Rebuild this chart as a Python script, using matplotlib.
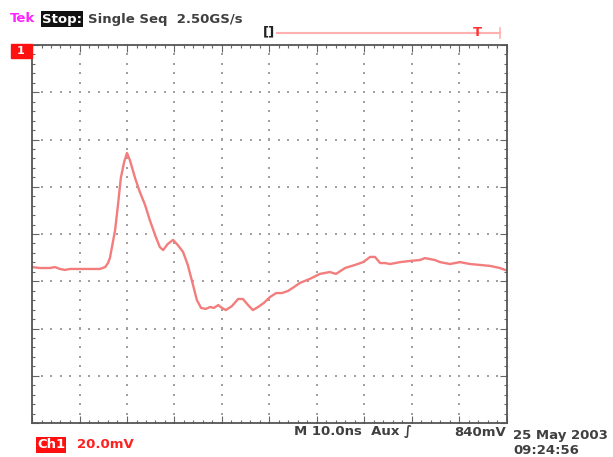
import numpy as np
import matplotlib
matplotlib.use('Agg')
import matplotlib.pyplot as plt
from matplotlib.patches import Rectangle

# waveform: time in ns (10 ns/div), voltage in mV (20 mV/div)
t_ns = [0.0, 1.7, 3.8, 4.8, 5.9, 6.9, 8.0, 10.1, 12.2, 14.3, 15.4, 16.0, 16.4, 16.8,
        17.5, 18.1, 18.7, 19.4, 20.0, 20.6, 21.7, 22.7, 23.8, 24.8, 25.9, 26.9, 27.6,
        28.6, 29.7, 30.7, 31.8, 32.8, 33.9, 34.7, 35.6, 36.6, 37.5, 38.3, 39.2, 40.0,
        40.8, 42.1, 43.4, 44.4, 45.5, 46.5, 47.6, 48.8, 50.1, 51.4, 52.6, 53.9, 55.2,
        56.4, 58.5, 60.6, 62.7, 64.0, 65.9, 68.0, 69.7, 71.2, 72.2, 73.3, 74.3, 75.4,
        77.5, 79.6, 81.7, 82.7, 84.8, 85.9, 88.0, 90.1, 92.2, 94.3, 96.4, 98.5, 99.6]
v_mv = [-14.0, -14.4, -14.4, -14.0, -14.8, -15.2, -14.8, -14.8, -14.8, -14.8, -14.0,
        -12.3, -10.2, -5.9, 1.7, 12.3, 23.7, 30.5, 34.3, 31.3, 23.7, 17.8, 12.3, 5.9,
        -0.4, -5.5, -6.8, -4.2, -2.5, -4.7, -7.6, -13.1, -21.6, -27.9, -31.3, -31.7,
        -30.9, -31.3, -30.1, -31.3, -32.2, -30.5, -27.5, -27.5, -30.1, -32.2, -30.9,
        -29.2, -26.7, -25.0, -25.0, -24.1, -22.4, -20.7, -19.0, -16.9, -16.1, -16.9,
        -14.4, -13.1, -11.9, -9.7, -9.7, -12.3, -12.3, -12.7, -11.9, -11.4, -11.0,
        -10.2, -11.0, -11.9, -12.7, -11.9, -12.7, -13.1, -13.5, -14.4, -15.2]

ns_per_div = 10.0
mv_per_div = 20.0
n_xdiv = 10
n_ydiv = 8

fig = plt.figure(figsize=(6.13, 4.57), dpi=100)
ax = fig.add_axes([32 / 613, 1 - 423 / 457, 475 / 613, 378 / 457])
ax.set_xlim(0, n_xdiv * ns_per_div)
ax.set_ylim(-n_ydiv / 2 * mv_per_div, n_ydiv / 2 * mv_per_div)

gray = '#a0a0a0'
# dotted graticule
for k in range(1, n_xdiv):
    ys = np.arange(-n_ydiv / 2, n_ydiv / 2 + 0.01, 0.2) * mv_per_div
    ax.scatter(np.full_like(ys, k * ns_per_div), ys, s=1.2, c=gray, marker='s', lw=0)
for k in range(1, n_ydiv):
    xs = np.arange(0, n_xdiv + 0.01, 0.2) * ns_per_div
    ax.scatter(xs, np.full_like(xs, (k - n_ydiv / 2) * mv_per_div), s=1.2, c=gray, marker='s', lw=0)

ax.plot(t_ns, v_mv, color='#f37d7d', lw=1.7, solid_joinstyle='round')

ax.set_xticks(np.arange(0, 101, ns_per_div))
ax.set_xticks(np.arange(0, 101, ns_per_div / 5), minor=True)
ax.set_yticks(np.arange(-80, 81, mv_per_div))
ax.set_yticks(np.arange(-80, 81, mv_per_div / 5), minor=True)
ax.tick_params(which='both', direction='in', top=True, right=True, color='#666666',
               labelbottom=False, labelleft=False)
ax.tick_params(which='major', length=5, width=0.8)
ax.tick_params(which='minor', length=2.5, width=0.8)
for sp in ax.spines.values():
    sp.set_color('#555555')
    sp.set_linewidth(1.3)

fs = 9.5
dark = '#404040'
fig.text(10 / 613, 1 - 19 / 457, 'Tek', color='#ff22ff', fontsize=fs, weight='bold', va='center')
fig.text(42 / 613, 1 - 19 / 457, 'Stop:', color='white', fontsize=fs, weight='bold', va='center',
         bbox=dict(boxstyle='square,pad=0.08', fc='#111111', ec='none'))
fig.text(88 / 613, 1 - 19 / 457, 'Single Seq  2.50GS/s', color=dark, fontsize=fs, weight='bold', va='center')

# trigger position bar
fig.text(263 / 613, 1 - 32 / 457, '[]', color='#222222', fontsize=fs, weight='bold', va='center')
fig.add_artist(plt.Line2D([277 / 613, 500 / 613], [1 - 33 / 457] * 2, color='#ffb0b0', lw=1.5))
fig.add_artist(plt.Line2D([500 / 613] * 2, [1 - 28 / 457, 1 - 38 / 457], color='#ffb0b0', lw=1.2))
fig.text(477 / 613, 1 - 32 / 457, 'T', color='#ff3333', fontsize=fs, weight='bold', va='center', ha='center')

# channel marker
fig.add_artist(Rectangle((11 / 613, 1 - 58 / 457), 21 / 613, 14 / 457, color='#ff1010'))
fig.text(21 / 613, 1 - 51 / 457, '1', color='white', fontsize=8, weight='bold', va='center', ha='center')

# bottom readouts
fig.text(37 / 613, 1 - 445 / 457, 'Ch1', color='white', fontsize=fs, weight='bold', va='center',
         bbox=dict(boxstyle='square,pad=0.08', fc='#ff1010', ec='none'))
fig.text(77 / 613, 1 - 445 / 457, '20.0mV', color='#ff2020', fontsize=fs, weight='bold', va='center')
fig.text(294 / 613, 1 - 432 / 457, 'M 10.0ns  Aux \u222b', color=dark, fontsize=fs, weight='bold', va='center')
fig.text(506 / 613, 1 - 432 / 457, '840mV', color=dark, fontsize=fs, weight='bold', va='center', ha='right')
fig.text(513 / 613, 1 - 435 / 457, '25 May 2003', color=dark, fontsize=fs, weight='bold', va='center')
fig.text(513 / 613, 1 - 451 / 457, '09:24:56', color=dark, fontsize=fs, weight='bold', va='center')

fig.savefig('out.png', dpi=100)
